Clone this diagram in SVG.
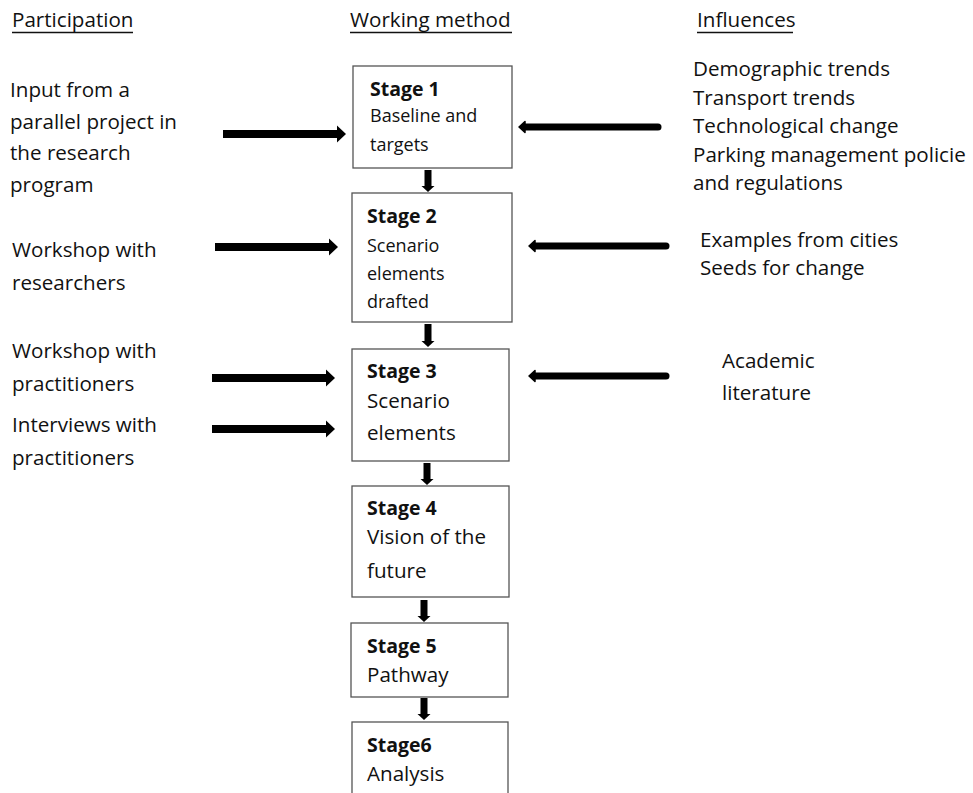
<svg xmlns="http://www.w3.org/2000/svg" width="973" height="793" viewBox="0 0 973 793">
<style>
  text { font-family: "Open Sans", "Noto Sans", "Liberation Sans", sans-serif; fill: #111; font-size: 20.6px; }
  .hdr { font-size: 20.6px; }
  .b { font-weight: bold; font-size: 19.5px; }
  .sm { font-size: 18px; }
  .box { fill: #fff; stroke: #555; stroke-width: 1.3; }
  .ul { stroke: #111; stroke-width: 1.5; }
  .in { stroke: #000; stroke-width: 8; marker-end: url(#headR); }
  .inf { stroke: #000; stroke-width: 7; stroke-linecap: round; marker-end: url(#headL); }
  .dn { stroke: #000; stroke-width: 7; marker-end: url(#headD); }
</style>
<defs>
  <marker id="headR" markerUnits="userSpaceOnUse" markerWidth="10" markerHeight="18" refX="0" refY="8.5" orient="auto" overflow="visible">
    <path d="M0,0 L9,8.5 L0,17 z" fill="#000"/>
  </marker>
  <marker id="headL" markerUnits="userSpaceOnUse" markerWidth="8" markerHeight="12" refX="0" refY="5.5" orient="auto" overflow="visible">
    <path d="M0,0 L6,5.5 L0,11 z" fill="#000" stroke="#000" stroke-width="1.5" stroke-linejoin="round"/>
  </marker>
  <marker id="headD" markerUnits="userSpaceOnUse" markerWidth="8" markerHeight="14" refX="0" refY="6.5" orient="auto" overflow="visible">
    <path d="M0,0 L6,6.5 L0,13 z" fill="#000"/>
  </marker>
</defs>

<g id="headers">
  <text class="hdr" x="12" y="27">Participation</text>
  <line class="ul" x1="12" y1="32.5" x2="133" y2="32.5"/>
  <text class="hdr" x="350" y="27">Working method</text>
  <line class="ul" x1="350" y1="32.5" x2="512" y2="32.5"/>
  <text class="hdr" x="697" y="27">Influences</text>
  <line class="ul" x1="697" y1="32.5" x2="793" y2="32.5"/>
</g>

<g id="participation">
  <g id="p-input">
    <text x="10" y="97">Input from a</text>
    <text x="10" y="129">parallel project in</text>
    <text x="10" y="160">the research</text>
    <text x="10" y="192">program</text>
  </g>
  <g id="p-researchers">
    <text x="12" y="257">Workshop with</text>
    <text x="12" y="290">researchers</text>
  </g>
  <g id="p-practitioners">
    <text x="12" y="358">Workshop with</text>
    <text x="12" y="391">practitioners</text>
  </g>
  <g id="p-interviews">
    <text x="12" y="432">Interviews with</text>
    <text x="12" y="465">practitioners</text>
  </g>
</g>

<g id="influences">
  <g id="i-trends">
    <text x="693" y="76">Demographic trends</text>
    <text x="693" y="105">Transport trends</text>
    <text x="693" y="133">Technological change</text>
    <text x="693" y="162">Parking management policie</text>
    <text x="693" y="190">and regulations</text>
  </g>
  <g id="i-examples">
    <text x="700" y="247">Examples from cities</text>
    <text x="700" y="275">Seeds for change</text>
  </g>
  <g id="i-academic">
    <text x="722" y="368">Academic</text>
    <text x="722" y="400">literature</text>
  </g>
</g>

<g id="stage1">
  <rect class="box" x="353" y="66" width="159" height="102"/>
  <text class="b" x="370" y="96">Stage 1</text>
  <text class="sm" x="370" y="122">Baseline and</text>
  <text class="sm" x="370" y="151">targets</text>
</g>
<g id="stage2">
  <rect class="box" x="352" y="193" width="160" height="129"/>
  <text class="b" x="367" y="223">Stage 2</text>
  <text class="sm" x="367" y="252">Scenario</text>
  <text class="sm" x="367" y="280">elements</text>
  <text class="sm" x="367" y="308">drafted</text>
</g>
<g id="stage3">
  <rect class="box" x="352" y="349" width="157" height="112"/>
  <text class="b" x="367" y="378">Stage 3</text>
  <text x="367" y="408">Scenario</text>
  <text x="367" y="440">elements</text>
</g>
<g id="stage4">
  <rect class="box" x="352" y="486" width="157" height="111"/>
  <text class="b" x="367" y="515">Stage 4</text>
  <text x="367" y="544">Vision of the</text>
  <text x="367" y="578">future</text>
</g>
<g id="stage5">
  <rect class="box" x="351" y="623" width="157" height="74"/>
  <text class="b" x="367" y="653">Stage 5</text>
  <text x="367" y="682">Pathway</text>
</g>
<g id="stage6">
  <rect class="box" x="352" y="722" width="156" height="80"/>
  <text class="b" x="367" y="752">Stage6</text>
  <text x="367" y="781">Analysis</text>
</g>

<g id="connectors">
  <line class="in" x1="223" y1="134" x2="337" y2="134"/>
  <line class="in" x1="215" y1="247" x2="329" y2="247"/>
  <line class="in" x1="212" y1="378" x2="326" y2="378"/>
  <line class="in" x1="212" y1="429" x2="326" y2="429"/>

  <line class="inf" x1="658" y1="127" x2="525" y2="127"/>
  <line class="inf" x1="666" y1="246" x2="535" y2="246"/>
  <line class="inf" x1="666" y1="376" x2="535" y2="376"/>

  <line class="dn" x1="428" y1="170" x2="428" y2="186"/>
  <line class="dn" x1="428" y1="324" x2="428" y2="341"/>
  <line class="dn" x1="427" y1="463" x2="427" y2="479"/>
  <line class="dn" x1="424" y1="600" x2="424" y2="616"/>
  <line class="dn" x1="424" y1="698" x2="424" y2="714"/>
</g>
</svg>
